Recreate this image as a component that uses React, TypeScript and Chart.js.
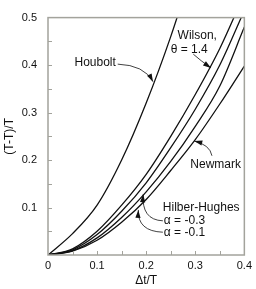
import React, { useEffect, useRef } from 'react';
import { Chart, registerables } from 'chart.js';

Chart.register(...registerables);

// Δt/T sample positions
const dtValues = [0, 0.05, 0.1, 0.15, 0.2, 0.25, 0.3, 0.35, 0.4];
// (T-T)/T
const houbolt = [0, 0.045, 0.105, 0.2, 0.32, 0.46, 0.62];
const wilson = [0, 0.013, 0.05, 0.105, 0.17, 0.25, 0.338, 0.435, 0.55];
const hilberMinus03 = [0, 0.011, 0.043, 0.092, 0.152, 0.226, 0.307, 0.4, 0.515];
const hilberMinus01 = [0, 0.009, 0.036, 0.079, 0.133, 0.197, 0.271, 0.356, 0.48];
const newmark = [0, 0.008, 0.031, 0.069, 0.117, 0.178, 0.243, 0.318, 0.398];

const xTickLabels = ['0', '0.1', '0.2', '0.3', '0.4'];
const yTickLabels = ['0.1', '0.2', '0.3', '0.4', '0.5'];

const FRAME = '#a3a39c';
const INK = '#111111';
const FONT = '"Liberation Sans", Arial, sans-serif';

const toPts = (ys: number[]) => ys.map((v, i) => ({ x: dtValues[i], y: v }));

const ds = (label: string, ys: number[]) => ({
  label,
  data: toPts(ys),
  borderColor: INK,
  borderWidth: 1.3,
  pointRadius: 0,
  fill: false,
  cubicInterpolationMode: 'monotone' as const,
});

type Arrow = { from: [number, number]; ctrl: [number, number]; tip: [number, number] };
const texts: { t: string; x: number; y: number }[] = [
  { t: 'Houbolt', x: 0.054, y: 0.404 },
  { t: 'Wilson,', x: 0.264, y: 0.462 },
  { t: 'θ = 1.4', x: 0.25, y: 0.432 },
  { t: 'Newmark', x: 0.29, y: 0.19 },
  { t: 'Hilber-Hughes', x: 0.234, y: 0.1 },
  { t: 'α = -0.3', x: 0.236, y: 0.072 },
  { t: 'α = -0.1', x: 0.236, y: 0.048 },
];
const arrows: Arrow[] = [
  { from: [0.142, 0.402], ctrl: [0.196, 0.4], tip: [0.214, 0.365] },
  { from: [0.296, 0.423], ctrl: [0.31, 0.41], tip: [0.332, 0.394] },
  { from: [0.334, 0.209], ctrl: [0.33, 0.232], tip: [0.298, 0.24] },
  { from: [0.234, 0.072], ctrl: [0.19, 0.074], tip: [0.194, 0.128] },
  { from: [0.234, 0.048], ctrl: [0.182, 0.05], tip: [0.184, 0.095] },
];

const decor = {
  id: 'decor',
  afterDatasetsDraw(chart: any) {
    const { ctx, scales, chartArea: a } = chart;
    const xs = scales.x;
    const ys = scales.y;
    const px = (v: number) => xs.getPixelForValue(v);
    const py = (v: number) => ys.getPixelForValue(v);
    ctx.save();
    // frame
    ctx.strokeStyle = FRAME;
    ctx.lineWidth = 1.5;
    ctx.strokeRect(a.left, a.top, a.right - a.left, a.bottom - a.top);
    // inside ticks
    ctx.lineWidth = 1;
    ctx.beginPath();
    for (let i = 1; i < 10; i++) {
      const yv = py(i * 0.05);
      ctx.moveTo(a.left, Math.round(yv) + 0.5);
      ctx.lineTo(a.left + 4, Math.round(yv) + 0.5);
    }
    for (let i = 1; i < 8; i++) {
      const xv = px(i * 0.05);
      ctx.moveTo(Math.round(xv) + 0.5, a.bottom);
      ctx.lineTo(Math.round(xv) + 0.5, a.bottom - 4);
    }
    ctx.stroke();
    // labels
    ctx.fillStyle = INK;
    ctx.font = '12px ' + FONT;
    ctx.textBaseline = 'middle';
    ctx.textAlign = 'left';
    texts.forEach((t) => ctx.fillText(t.t, px(t.x), py(t.y)));
    // arrows
    ctx.strokeStyle = INK;
    ctx.lineWidth = 0.8;
    arrows.forEach((ar) => {
      const [fx, fy] = [px(ar.from[0]), py(ar.from[1])];
      const [cx, cy] = [px(ar.ctrl[0]), py(ar.ctrl[1])];
      const [tx, ty] = [px(ar.tip[0]), py(ar.tip[1])];
      ctx.beginPath();
      ctx.moveTo(fx, fy);
      ctx.quadraticCurveTo(cx, cy, tx, ty);
      ctx.stroke();
      const ang = Math.atan2(ty - cy, tx - cx);
      const L = 8;
      const W = 2.6;
      ctx.beginPath();
      ctx.moveTo(tx, ty);
      ctx.lineTo(tx - L * Math.cos(ang) + W * Math.sin(ang), ty - L * Math.sin(ang) - W * Math.cos(ang));
      ctx.lineTo(tx - L * Math.cos(ang) - W * Math.sin(ang), ty - L * Math.sin(ang) + W * Math.cos(ang));
      ctx.closePath();
      ctx.fill();
    });
    ctx.restore();
  },
};

export default function App() {
  const ref = useRef<HTMLCanvasElement | null>(null);
  useEffect(() => {
    if (!ref.current) return;
    const chart = new Chart(ref.current, {
      type: 'line',
      data: {
        datasets: [
          ds('Houbolt', houbolt),
          ds('Wilson, θ = 1.4', wilson),
          ds('Hilber-Hughes α = -0.3', hilberMinus03),
          ds('Hilber-Hughes α = -0.1', hilberMinus01),
          ds('Newmark', newmark),
        ],
      },
      options: {
        responsive: false,
        animation: false,
        devicePixelRatio: 1,
        layout: { padding: { left: 0, right: 8, top: 4, bottom: 0 } },
        plugins: { legend: { display: false }, tooltip: { enabled: false } },
        scales: {
          x: {
            type: 'linear',
            min: 0,
            max: 0.4,
            afterFit: (s: any) => { s.height = 34; },
            afterBuildTicks: (s: any) => {
              s.ticks = xTickLabels.map((l) => ({ value: parseFloat(l) }));
            },
            grid: { display: false, drawTicks: false },
            border: { display: false },
            ticks: {
              padding: 4,
              color: INK,
              font: { size: 11, family: FONT },
              maxRotation: 0,
              callback: (v: any) => {
                const i = xTickLabels.findIndex((l) => Math.abs(parseFloat(l) - v) < 1e-6);
                return i >= 0 ? xTickLabels[i] : '';
              },
            },
            title: {
              display: true,
              text: 'Δt/T',
              color: INK,
              font: { size: 12, family: FONT },
              padding: { top: 0, bottom: 1 },
            },
          },
          y: {
            type: 'linear',
            min: 0,
            max: 0.5,
            afterFit: (s: any) => { s.width = 48; },
            afterBuildTicks: (s: any) => {
              s.ticks = yTickLabels.map((l) => ({ value: parseFloat(l) }));
            },
            grid: { display: false, drawTicks: false },
            border: { display: false },
            ticks: {
              padding: 11,
              color: INK,
              font: { size: 11, family: FONT },
              callback: (v: any) => {
                const i = yTickLabels.findIndex((l) => Math.abs(parseFloat(l) - v) < 1e-6);
                return i >= 0 ? yTickLabels[i] : '';
              },
            },
            title: {
              display: true,
              text: '(T-T)/T',
              color: INK,
              font: { size: 12, family: FONT },
              padding: { top: 2, bottom: 0 },
            },
          },
        },
      },
      plugins: [decor],
    });
    return () => chart.destroy();
  }, []);
  return (
    <div style={{ position: 'fixed', left: 0, top: 0, width: 256, height: 289, background: '#fff' }}>
      <canvas ref={ref} width={256} height={289} style={{ width: 256, height: 289 }} />
    </div>
  );
}
